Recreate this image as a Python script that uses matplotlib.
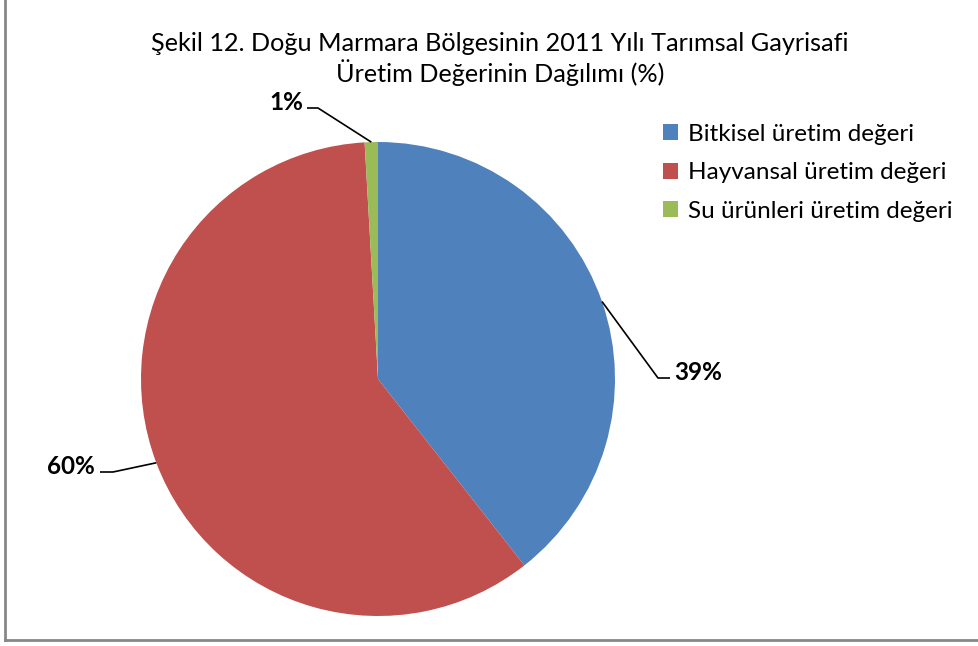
import numpy as np
import matplotlib
matplotlib.use("Agg")
import matplotlib.pyplot as plt
from matplotlib.lines import Line2D
from matplotlib.patches import Patch

plt.rcParams['font.family'] = ['Lato', 'DejaVu Sans']

title = "Şekil 12. Doğu Marmara Bölgesinin 2011 Yılı Tarımsal Gayrisafi\nÜretim Değerinin Dağılımı (%)"
categories = ["Bitkisel üretim değeri", "Hayvansal üretim değeri", "Su ürünleri üretim değeri"]
values = [39.4, 59.7, 0.9]
labels = ["39%", "60%", "1%"]
colors = ["#4F81BD", "#C0504D", "#9BBB59"]

W, H = 979, 646
fig = plt.figure(figsize=(W / 100, H / 100), dpi=100)

# pie axes: center (378, 379) px, radius 237 px
cx, cy, r = 378, 379, 237
ax = fig.add_axes([(cx - r) / W, (H - cy - r) / H, 2 * r / W, 2 * r / H])
wedges, _ = ax.pie(values, colors=colors, startangle=90, counterclock=False,
                   radius=1.0, wedgeprops=dict(linewidth=0))
ax.set_xlim(-1, 1)
ax.set_ylim(-1, 1)
ax.set_aspect('equal')
ax.axis('off')

# label layout (pixel positions of label text anchor and elbow)
label_text_px = [(674, 372, 'left'), (95, 467, 'right'), (303, 103, 'right')]
elbow_px = [((658, 378), (670, 378)), ((113, 472), (100, 472)), ((318, 108), (307, 108))]

def px_to_data(px, py):
    return ((px - cx) / r, (cy - py) / r)

for w, lab, (tx, ty, ha), (e1, e2) in zip(wedges, labels, label_text_px, elbow_px):
    ang = np.deg2rad((w.theta1 + w.theta2) / 2)
    x0, y0 = np.cos(ang), np.sin(ang)
    p1 = px_to_data(*e1)
    p2 = px_to_data(*e2)
    ax.plot([x0, p1[0], p2[0]], [y0, p1[1], p2[1]], color='black', lw=1.2,
            clip_on=False, solid_capstyle='butt')
    tdx, tdy = px_to_data(tx, ty)
    ax.text(tdx, tdy, lab, ha=ha, va='center', fontsize=17.5, fontweight='bold',
            color='black', clip_on=False)

fig.text(500 / W, 1 - 59 / H, title, ha='center', va='center', fontsize=18.2,
         linespacing=1.2, color='black')

handles = [Patch(facecolor=c, edgecolor='none') for c in colors]
fig.legend(handles, categories, loc='upper left',
           bbox_to_anchor=(641 / W, 1 - 102 / H), frameon=False,
           fontsize=17.5, handlelength=0.62, handleheight=0.62,
           handletextpad=0.4, labelspacing=0.72)

# chart frame (left and bottom visible)
fig.add_artist(Line2D([5 / W, 5 / W], [1 - 640 / H, 1.0], color='#878787', lw=2,
                      transform=fig.transFigure))
fig.add_artist(Line2D([5 / W, 1.0], [1 - 640 / H, 1 - 640 / H], color='#878787', lw=2,
                      transform=fig.transFigure))

fig.savefig("out.png", dpi=100, facecolor='white')
